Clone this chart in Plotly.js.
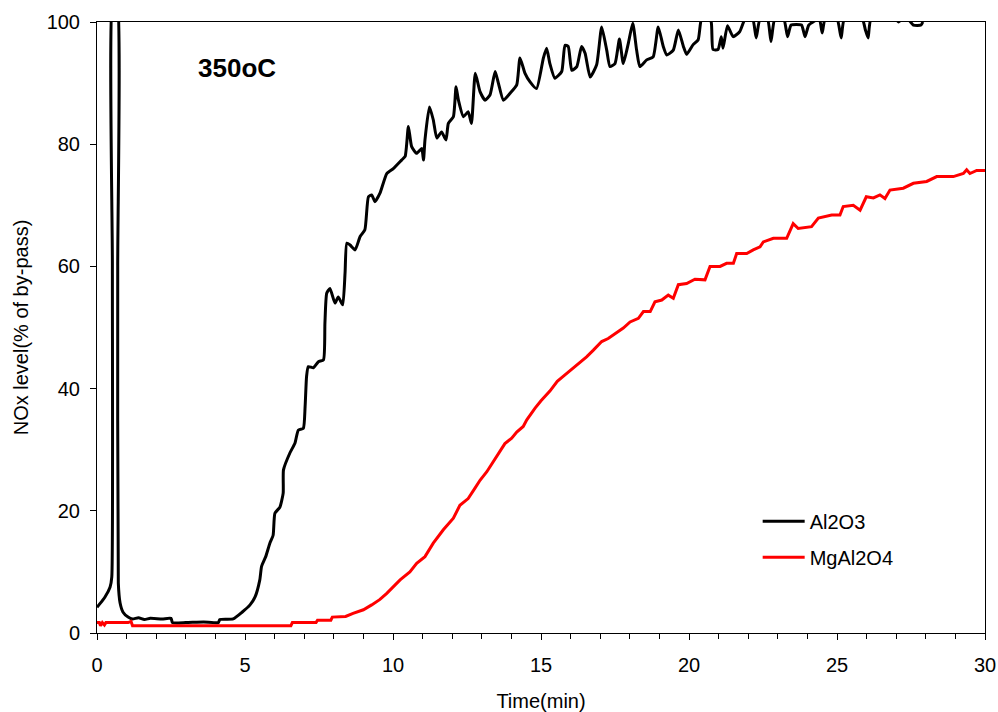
<!DOCTYPE html>
<html>
<head>
<meta charset="utf-8">
<script src="https://cdn.plot.ly/plotly-3.0.1.min.js"></script>
<style>html,body{margin:0;padding:0;background:#fff;}#chart{width:998px;height:712px;}</style>
</head>
<body>
<div id="chart"></div>
<script>
// Al2O3 (black)
const al2o3Time = [0,0.1,0.27,0.44,0.5,0.52,0.54,0.67,0.7,0.72,0.78,0.88,1.05,1.2,1.4,1.6,1.8,2.2,2.5,2.55,3.0,3.6,4.1,4.15,4.6,4.9,5.17,5.34,5.5,5.56,5.7,5.84,5.95,6.01,6.18,6.29,6.3,6.52,6.69,6.8,6.97,7.03,7.08,7.14,7.31,7.48,7.65,7.7,7.76,7.87,8.04,8.15,8.3,8.38,8.44,8.55,8.72,8.89,9.05,9.17,9.28,9.39,9.56,9.79,10.01,10.29,10.41,10.52,10.63,10.8,10.97,11.03,11.08,11.23,11.36,11.48,11.64,11.79,11.87,12.04,12.13,12.21,12.38,12.54,12.65,12.78,12.94,13.11,13.28,13.45,13.56,13.73,13.95,14.18,14.29,14.46,14.63,14.85,15.08,15.19,15.3,15.47,15.7,15.81,15.92,16.04,16.21,16.37,16.49,16.66,16.88,17.05,17.22,17.33,17.5,17.65,17.78,17.95,18.1,18.23,18.34,18.57,18.79,18.96,19.13,19.25,19.47,19.64,19.81,19.92,20.14,20.31,20.42,20.6,20.75,20.81,20.98,21.09,21.15,21.3,21.49,21.71,21.9,22.15,22.27,22.4,22.65,22.77,22.9,23.2,23.33,23.45,23.8,23.92,24.05,24.4,24.5,24.6,25.0,25.14,25.25,25.85,25.96,26.05,26.15,26.9,27.08,27.3,27.58,27.84,27.9];
const al2o3NOx = [4.2,4.8,5.9,7.5,9.2,60,104,104,60,8.2,4.9,3.4,2.6,2.3,2.5,2.2,2.4,2.3,2.4,1.7,1.7,1.8,1.7,2.2,2.3,3.4,4.6,5.9,8.7,10.9,12.5,14.7,16,19.6,20.6,22.9,26.7,29.5,31.1,33.2,33.5,37,42,43.6,43.4,44.4,44.7,50.7,55.6,56.4,54,55,53.7,58.9,63.8,63.5,62.7,64.9,66,71.4,71.7,70.6,72,75.2,76,77.4,78,82.9,79.6,78.5,79.3,77.4,80.7,86.1,84,81,82,80.7,83.4,84.5,89.4,87.2,84.5,85.3,83.4,91.6,88.6,87.2,88.1,91.9,90,87.2,88.3,89.7,94.1,91.6,90.2,89.1,94.1,95.7,93.2,90.8,91.9,96.2,96,92.1,92.7,96,94.9,91,93,99.2,95.4,92.7,93.2,97.2,93.2,96.5,99.8,95.4,92.7,93.8,94.3,99.2,96,94.6,95.4,98.7,96,94.7,96.3,97.1,100.5,101,100,95.5,95.5,97.6,95.7,99.4,97.6,98.4,100.5,100.5,97.4,100.5,100.5,96.8,100.5,100.5,97.6,99.5,99.5,97.6,99.5,100.5,98.2,100.5,100.5,97.4,100.5,100.5,98.7,97.4,100.5,101,100,101,99.5,99.5,100];

// MgAl2O4 (red)
const mgTime = [0,0.08,0.12,0.18,0.25,0.3,1.05,1.15,1.2,6.55,6.6,7.4,7.45,7.9,7.95,8.4,8.65,9.0,9.28,9.56,9.79,10.01,10.24,10.57,10.8,11.08,11.36,11.7,12.04,12.26,12.54,12.77,12.94,13.17,13.39,13.61,13.78,14.01,14.18,14.4,14.52,14.8,15.0,15.3,15.55,15.8,16.05,16.32,16.54,16.77,17.05,17.27,17.56,17.78,18.01,18.29,18.46,18.69,18.85,19.08,19.3,19.47,19.64,19.92,20.2,20.54,20.71,21.05,21.27,21.5,21.61,21.95,22.17,22.4,22.51,22.85,23.07,23.3,23.52,23.69,24.14,24.37,24.82,25.1,25.21,25.55,25.78,25.99,26.23,26.45,26.62,26.79,27.24,27.58,28.03,28.37,28.93,29.27,29.38,29.49,29.72,30.0];
const mgNOx = [1.7,1.7,1.2,1.7,1.3,1.7,1.7,1.9,1.2,1.2,1.7,1.7,2.1,2.1,2.6,2.7,3.2,3.8,4.6,5.5,6.5,7.6,8.7,10,11.4,12.5,14.7,16.9,18.8,20.9,22,23.7,25,26.4,28,29.7,31,31.9,32.9,33.8,34.9,36.8,38,39.6,41.2,42.2,43.2,44.4,45.2,46.3,47.7,48.2,49.1,49.9,50.9,51.5,52.6,52.6,54.2,54.5,55.3,54.8,57,57.2,57.9,57.8,60,60,60.5,60.5,62.1,62.1,62.7,63.2,64,64.6,64.6,64.6,67,66.2,66.5,67.9,68.4,68.4,69.8,70,69.2,71.4,71.2,71.7,71.1,72.5,72.8,73.6,73.9,74.7,74.7,75.2,75.8,75.2,75.7,75.7];

const seriesNames = ['Al2O3', 'MgAl2O4'];
const xTitle = 'Time(min)';
const yTitle = 'NOx level(% of by-pass)';
const tempLabel = '350oC';

const FONT = 'Liberation Sans, Arial, sans-serif';

const traces = [
  {x: al2o3Time, y: al2o3NOx, name: seriesNames[0], mode: 'lines', legendgroup: 'a',
   line: {color: '#000000', width: 3, shape: 'spline', smoothing: 0.5}},
  {x: mgTime, y: mgNOx, name: seriesNames[1], mode: 'lines', legendgroup: 'b',
   line: {color: '#ff0000', width: 3}}
];

const layout = {
  width: 998, height: 712,
  paper_bgcolor: '#ffffff', plot_bgcolor: '#ffffff',
  margin: {l: 97, r: 13, t: 22, b: 79},
  font: {family: FONT, size: 20, color: '#000'},
  showlegend: true,
  legend: {x: 0.744, y: 0.215, xanchor: 'left', yanchor: 'top', bgcolor: 'rgba(0,0,0,0)',
           borderwidth: 0, traceorder: 'grouped', tracegroupgap: 7, itemwidth: 42,
           font: {family: FONT, size: 20}},
  xaxis: {
    range: [0, 30], dtick: 5, tick0: 0, ticks: 'outside', ticklen: 6, tickwidth: 1, tickcolor: '#000',
    showline: true, linecolor: '#000', linewidth: 1, mirror: true, showgrid: false, zeroline: false,
    minor: {dtick: 1, ticks: 'outside', ticklen: 5, tickcolor: '#000', tickwidth: 1, showgrid: false},
    ticklabelstandoff: 8,
    title: {text: xTitle, font: {family: FONT, size: 20}, standoff: 18}
  },
  yaxis: {
    range: [0, 100], dtick: 20, tick0: 0, ticks: 'outside', ticklen: 6, tickwidth: 1, tickcolor: '#000',
    showline: true, linecolor: '#000', linewidth: 1, mirror: true, showgrid: false, zeroline: false,
    ticklabelstandoff: 6,
    title: {text: yTitle, font: {family: FONT, size: 20}, standoff: 12}
  },
  annotations: [{
    xref: 'paper', yref: 'paper', x: 0.158, y: 0.925, xanchor: 'center', yanchor: 'middle',
    text: '<b>' + tempLabel + '</b>', showarrow: false, font: {family: FONT, size: 26, color: '#000'}
  }]
};

Plotly.newPlot('chart', traces, layout, {displayModeBar: false, staticPlot: true});
</script>
</body>
</html>
